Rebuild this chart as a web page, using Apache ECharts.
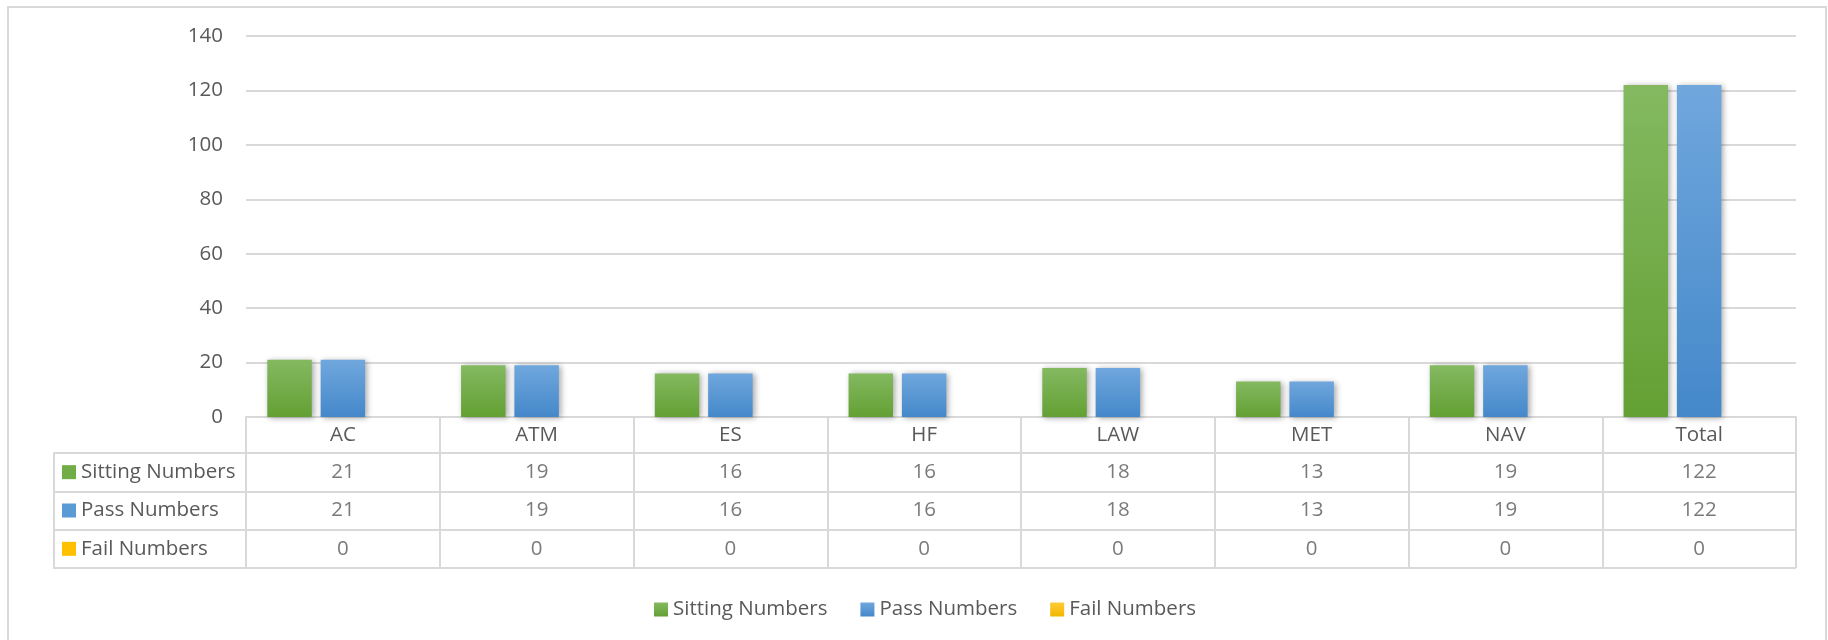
<!DOCTYPE html>
<html>
<head>
<meta charset="utf-8">
<script src="https://cdn.jsdelivr.net/npm/echarts@6/dist/echarts.min.js"></script>
<style>
  html, body { margin: 0; padding: 0; background: #fff; }
  #chart { width: 1828px; height: 640px; }
</style>
</head>
<body>
<div id="chart"></div>
<script>
// --- Dados ---
const categories = ['AC', 'ATM', 'ES', 'HF', 'LAW', 'MET', 'NAV', 'Total'];
const sittingNumbers = [21, 19, 16, 16, 18, 13, 19, 122];
const passNumbers = [21, 19, 16, 16, 18, 13, 19, 122];
const failNumbers = [0, 0, 0, 0, 0, 0, 0, 0];
const seriesNames = ['Sitting Numbers', 'Pass Numbers', 'Fail Numbers'];
const yTicks = { min: 0, max: 140, interval: 20 };

const textColor = '#595959';
const lineColor = '#d9d9d9';
const fontFamily = '"Open Sans", sans-serif';
const fontSize = 20.5;

const grad = (top, bottom) => new echarts.graphic.LinearGradient(0, 0, 0, 1, [
    { offset: 0, color: top },
    { offset: 1, color: bottom }
]);
const colors = [
    grad('#84b961', '#63a033'),
    grad('#70a7dd', '#4488ca'),
    grad('#ffca38', '#f2b700')
];
const squareColors = ['#70ad47', '#5b9bd5', '#ffc000'];

const chart = echarts.init(document.getElementById('chart'));

const barSeries = [sittingNumbers, passNumbers, failNumbers].map((values, i) => ({
    name: seriesNames[i],
    type: 'bar',
    xAxisIndex: 0,
    yAxisIndex: 0,
    barCategoryGap: '22%',
    barGap: '20%',
    itemStyle: {
        color: colors[i],
        shadowColor: 'rgba(0,0,0,0.35)',
        shadowBlur: 6,
        shadowOffsetX: 2,
        shadowOffsetY: 1
    },
    silent: true,
    data: values
}));

// valores da tabela
const tableSeries = [sittingNumbers, passNumbers, failNumbers].map((values, i) => ({
    name: 'table-' + seriesNames[i],
    type: 'scatter',
    xAxisIndex: 1,
    yAxisIndex: 1,
    symbolSize: 1,
    itemStyle: { color: 'rgba(0,0,0,0)' },
    silent: true,
    label: {
        show: true,
        position: 'inside',
        formatter: p => String(p.value[2]),
        fontSize,
        fontFamily,
        color: textColor
    },
    data: values.map((v, j) => [categories[j], seriesNames[i], v])
}));

const rich = { t: { fontSize, fontFamily, color: textColor, padding: [0, 0, 0, 5] } };
squareColors.forEach((c, i) => {
    rich['sq' + i] = { width: 14, height: 14, backgroundColor: c };
});

chart.setOption({
    backgroundColor: '#ffffff',
    animation: false,
    textStyle: { fontFamily },
    graphic: [{
        type: 'rect',
        shape: { x: 8, y: 7, width: 1818, height: 700 },
        style: { fill: 'none', stroke: lineColor, lineWidth: 2 },
        silent: true
    }],
    legend: {
        data: seriesNames,
        left: 649,
        top: 594,
        icon: 'rect',
        itemWidth: 14,
        itemHeight: 14,
        itemGap: 33,
        textStyle: { fontSize, color: textColor, fontFamily },
        selectedMode: false
    },
    grid: [
        { left: 246, right: 32, top: 36, height: 381 },
        { left: 246, right: 32, top: 453, height: 115 }
    ],
    xAxis: [
        {
            type: 'category',
            gridIndex: 0,
            data: categories,
            axisLine: { show: true, lineStyle: { color: lineColor, width: 2 } },
            axisTick: { show: true, length: 151, lineStyle: { color: lineColor, width: 2 } },
            axisLabel: { fontSize, color: textColor, margin: 8, fontFamily }
        },
        {
            type: 'category',
            gridIndex: 1,
            data: categories,
            show: false
        }
    ],
    yAxis: [
        {
            type: 'value',
            gridIndex: 0,
            min: yTicks.min,
            max: yTicks.max,
            interval: yTicks.interval,
            axisLine: { show: false },
            axisTick: { show: false },
            axisLabel: { fontSize, color: textColor, margin: 23, fontFamily },
            splitLine: { lineStyle: { color: lineColor, width: 2 } }
        },
        {
            type: 'category',
            gridIndex: 1,
            data: seriesNames,
            inverse: true,
            offset: 192,
            axisLine: { show: true, lineStyle: { color: lineColor, width: 2 } },
            axisTick: { show: true, inside: true, length: 192, lineStyle: { color: lineColor, width: 2 } },
            axisLabel: {
                inside: true,
                margin: 8,
                formatter: (v, i) => `{sq${i}|}{t|${v}}`,
                rich
            },
            splitLine: { show: true, lineStyle: { color: lineColor, width: 2 } }
        }
    ],
    series: [...barSeries, ...tableSeries]
});
</script>
</body>
</html>
